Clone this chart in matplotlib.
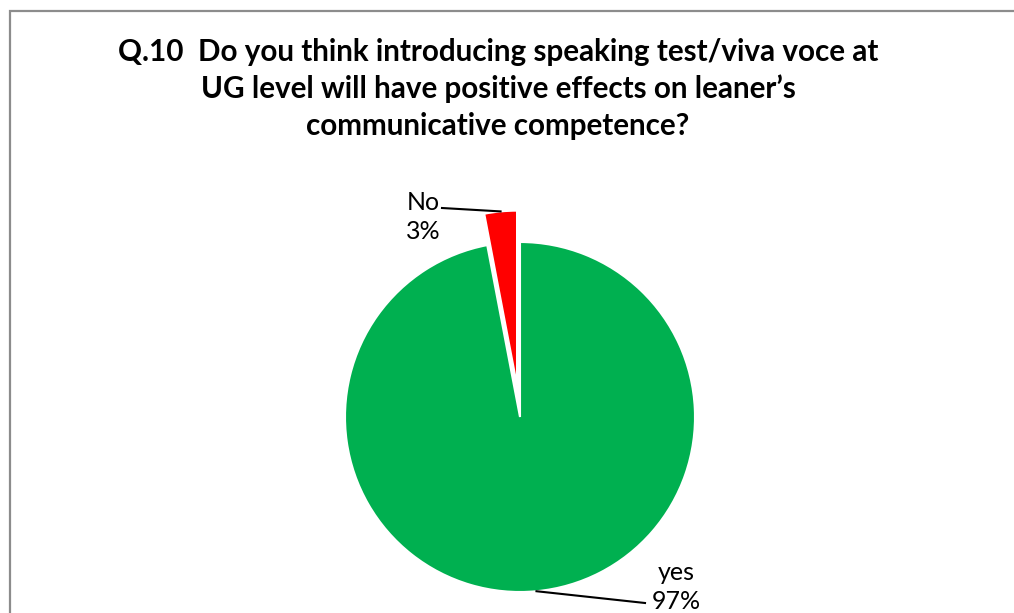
import numpy as np
import matplotlib
matplotlib.use("Agg")
import matplotlib.pyplot as plt
from matplotlib.patches import Rectangle
from matplotlib.lines import Line2D

# Survey answers
labels = ["yes", "No"]
percents = [97, 3]
colors = ["#00B050", "#FF0000"]
title = ("Q.10  Do you think introducing speaking test/viva voce at\n"
         "UG level will have positive effects on leaner\u2019s\n"
         "communicative competence?")

W, H = 1014, 613
fig = plt.figure(figsize=(W / 100, H / 100), dpi=100)
ax = fig.add_axes([0, 0, 1, 1])

cx, cy, r = 520, H - 417, 175
explode_frac = [0, 0.18]
# pie() applies explode offsets in data units, so scale by the radius
explode = [e * r for e in explode_frac]
wedges, _ = ax.pie(percents, colors=colors, startangle=90, counterclock=False,
                   explode=explode, radius=r, center=(cx, cy),
                   wedgeprops=dict(edgecolor="white", linewidth=1.5),
                   frame=True)
ax.set_xlim(0, W)
ax.set_ylim(0, H)
ax.set_aspect("equal")
ax.axis("off")

# Outer border of the chart area
ax.add_patch(Rectangle((10, -20), W + 20, H - 11 + 20, fill=False,
                       edgecolor="#8C8C8C", linewidth=1.6, zorder=0))

fig.text(498 / W, 1 - 89 / H, title, ha="center", va="center",
         fontsize=21.3, fontweight="bold", family=["Lato", "DejaVu Sans"],
         linespacing=1.36)

# Data labels with leader lines to each slice's outer midpoint
label_pos = {"No": (423, H - 217), "yes": (676, H - 587)}
line_end = {"No": (442, H - 208), "yes": (645, H - 603)}
ang = 90.0
for lab, pct, ex in zip(labels, percents, explode):
    span = 360.0 * pct / sum(percents)
    mid = np.deg2rad(ang - span / 2)
    ang -= span
    ox, oy = cx + ex * np.cos(mid), cy + ex * np.sin(mid)
    px, py = ox + r * np.cos(mid), oy + r * np.sin(mid)
    tx, ty = label_pos[lab]
    ax.text(tx, ty, f"{lab}\n{pct}%", ha="center", va="center", fontsize=18,
            family=["Lato", "DejaVu Sans"], linespacing=1.3)
    ex_, ey_ = line_end[lab]
    ax.add_line(Line2D([px, ex_], [py, ey_], color="black", linewidth=1.5))

fig.savefig("out.png", dpi=100, facecolor="white")
